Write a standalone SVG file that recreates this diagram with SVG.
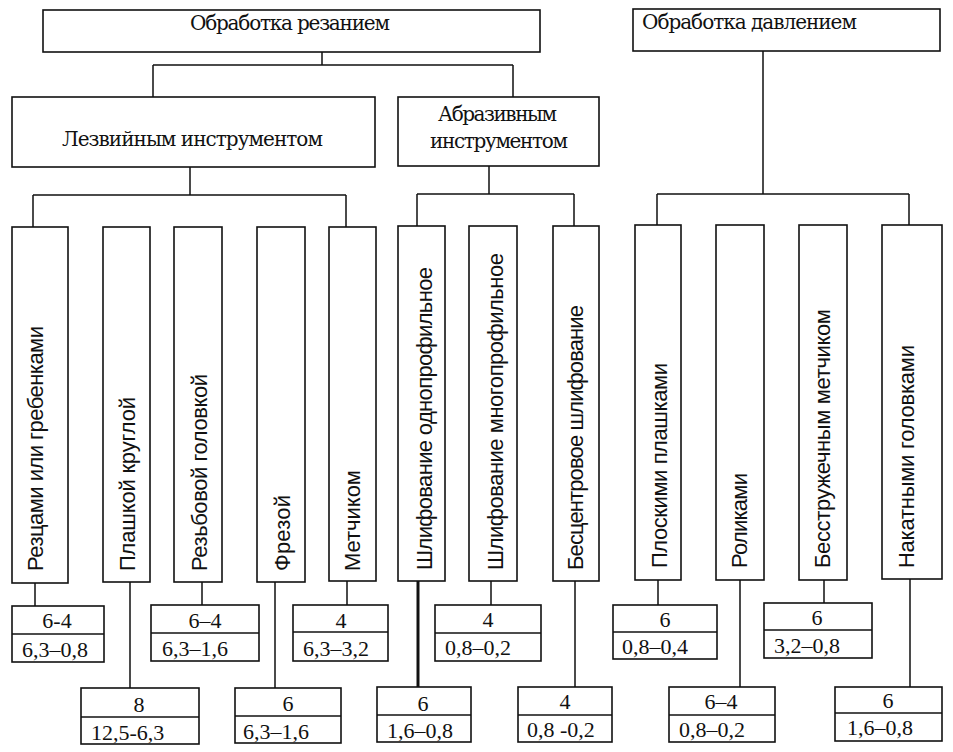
<svg xmlns="http://www.w3.org/2000/svg" width="953" height="752" viewBox="0 0 953 752">
<style>
.box{fill:#fff;stroke:#111;stroke-width:1.6}
.ln{fill:none;stroke:#111;stroke-width:1.5}
.thick{fill:none;stroke:#111;stroke-width:3}
.h{font-family:"DejaVu Serif","Liberation Serif",serif;font-size:20px;fill:#111}
.v{font-family:"Liberation Sans",Arial,sans-serif;font-size:22px;fill:#111}
.n{font-family:"Liberation Serif","Times New Roman",serif;font-size:22px;fill:#111}
.c{text-anchor:middle}
</style>
<rect width="953" height="752" fill="#fff"/>
<g id="connectors">
<path class="ln" d="M322 52V65M153 65H513M153 65V97M513 65V97"/>
<path class="ln" d="M190 167V195M33 195H346M33 195V227M346 195V227"/>
<path class="ln" d="M489 166V194M417 194H574M417 194V226M574 194V226"/>
<path class="ln" d="M763 51V194M657 194H909M657 194V225M909 194V225"/>
<path class="ln" d="M35 583V606M130 582V688M202 582V605M275 582V688M347 581V605M491 581V605M575 581V687M658 580V605M740 580V687M824 580V603M910 579V687"/>
<path class="thick" d="M418 581V687"/>
</g>
<g id="n-rez">
<rect class="box" x="43" y="10" width="497" height="42"/>
<text class="h" x="190" y="30" textLength="200">Обработка резанием</text>
</g>
<g id="n-dav">
<rect class="box" x="633" y="9" width="307" height="42"/>
<text class="h" x="642" y="29" textLength="215">Обработка давлением</text>
</g>
<g id="n-lez">
<rect class="box" x="12" y="97" width="363" height="70"/>
<text class="h" x="62" y="146" textLength="261">Лезвийным инструментом</text>
</g>
<g id="n-abr">
<rect class="box" x="398" y="97" width="201" height="69"/>
<text class="h" x="438" y="121" textLength="119">Абразивным</text>
<text class="h" x="430" y="148" textLength="138">инструментом</text>
</g>
<g id="v1"><rect class="box" x="12" y="227" width="56" height="356"/><text class="v" transform="translate(43,571) rotate(-90)" textLength="245">Резцами или гребенками</text></g>
<g id="v2"><rect class="box" x="103" y="227" width="47" height="355"/><text class="v" transform="translate(135,571) rotate(-90)" textLength="174">Плашкой круглой</text></g>
<g id="v3"><rect class="box" x="174" y="227" width="48" height="355"/><text class="v" transform="translate(207,571) rotate(-90)" textLength="197">Резьбовой головкой</text></g>
<g id="v4"><rect class="box" x="257" y="227" width="48" height="355"/><text class="v" transform="translate(290,571) rotate(-90)" textLength="76">Фрезой</text></g>
<g id="v5"><rect class="box" x="329" y="227" width="47" height="354"/><text class="v" transform="translate(360,571) rotate(-90)" textLength="101">Метчиком</text></g>
<g id="v6"><rect class="box" x="398" y="226" width="47" height="355"/><text class="v" transform="translate(432,570) rotate(-90)" textLength="303">Шлифование однопрофильное</text></g>
<g id="v7"><rect class="box" x="469" y="226" width="48" height="355"/><text class="v" transform="translate(503,570) rotate(-90)" textLength="317">Шлифование многопрофильное</text></g>
<g id="v8"><rect class="box" x="553" y="226" width="46" height="355"/><text class="v" transform="translate(583,570) rotate(-90)" textLength="265">Бесцентровое шлифование</text></g>
<g id="v9"><rect class="box" x="635" y="225" width="46" height="355"/><text class="v" transform="translate(667,568) rotate(-90)" textLength="205">Плоскими плашками</text></g>
<g id="v10"><rect class="box" x="716" y="225" width="48" height="355"/><text class="v" transform="translate(747,568) rotate(-90)" textLength="95">Роликами</text></g>
<g id="v11"><rect class="box" x="799" y="225" width="48" height="355"/><text class="v" transform="translate(830,568) rotate(-90)" textLength="259">Бесстружечным метчиком</text></g>
<g id="v12"><rect class="box" x="882" y="225" width="60" height="354"/><text class="v" transform="translate(914,568) rotate(-90)" textLength="223">Накатными головками</text></g>
<g id="bA"><rect class="box" x="12" y="606" width="92" height="56"/><path class="ln" d="M12 634H104"/><text class="n c" x="57" y="628">6-4</text><text class="n" x="22" y="657">6,3–0,8</text></g>
<g id="bB"><rect class="box" x="81" y="688" width="118" height="56"/><path class="ln" d="M81 717H199"/><text class="n c" x="139" y="712">8</text><text class="n" x="91" y="740">12,5-6,3</text></g>
<g id="bC"><rect class="box" x="151" y="605" width="108" height="56"/><path class="ln" d="M151 633H259"/><text class="n c" x="205" y="628">6–4</text><text class="n" x="162" y="656">6,3–1,6</text></g>
<g id="bD"><rect class="box" x="235" y="688" width="106" height="55"/><path class="ln" d="M235 716H341"/><text class="n c" x="288" y="711">6</text><text class="n" x="243" y="739">6,3–1,6</text></g>
<g id="bE"><rect class="box" x="293" y="605" width="95" height="56"/><path class="ln" d="M293 632H388"/><text class="n c" x="341" y="628">4</text><text class="n" x="303" y="656">6,3–3,2</text></g>
<g id="bF"><rect class="box" x="377" y="687" width="94" height="55"/><path class="ln" d="M377 715H471"/><text class="n c" x="423" y="711">6</text><text class="n" x="387" y="738">1,6–0,8</text></g>
<g id="bG"><rect class="box" x="435" y="605" width="106" height="56"/><path class="ln" d="M435 633H541"/><text class="n c" x="488" y="627">4</text><text class="n" x="445" y="655">0,8–0,2</text></g>
<g id="bH"><rect class="box" x="518" y="687" width="94" height="55"/><path class="ln" d="M518 715H612"/><text class="n c" x="565" y="709">4</text><text class="n" x="527" y="737">0,8 -0,2</text></g>
<g id="bI"><rect class="box" x="613" y="605" width="104" height="54"/><path class="ln" d="M613 632H717"/><text class="n c" x="665" y="627">6</text><text class="n" x="622" y="654">0,8–0,4</text></g>
<g id="bJ"><rect class="box" x="669" y="687" width="106" height="55"/><path class="ln" d="M669 715H775"/><text class="n c" x="721" y="709">6–4</text><text class="n" x="679" y="737">0,8–0,2</text></g>
<g id="bK"><rect class="box" x="764" y="603" width="108" height="55"/><path class="ln" d="M764 630H872"/><text class="n c" x="817" y="625">6</text><text class="n" x="774" y="653">3,2–0,8</text></g>
<g id="bL"><rect class="box" x="835" y="687" width="107" height="54"/><path class="ln" d="M835 713H942"/><text class="n c" x="888" y="708">6</text><text class="n" x="847" y="735">1,6–0,8</text></g>
</svg>
